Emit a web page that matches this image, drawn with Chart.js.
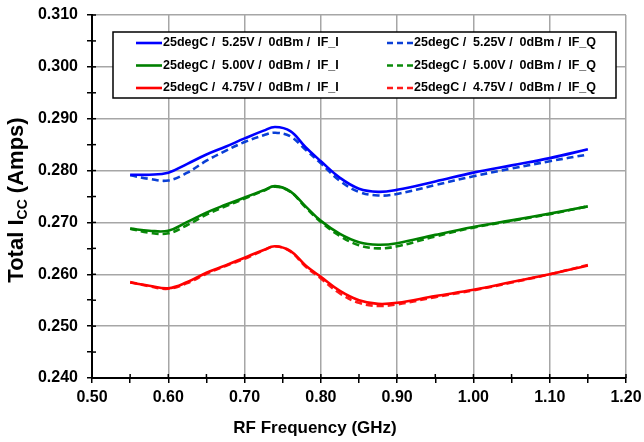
<!DOCTYPE html>
<html>
<head>
<meta charset="utf-8">
<script src="https://cdn.jsdelivr.net/npm/chart.js@4"></script>
<style>
  html, body { margin: 0; padding: 0; background: #ffffff; }
  #wrap { width: 644px; height: 442px; position: relative; }
</style>
</head>
<body>
<div id="wrap"><canvas id="c" width="644" height="442"></canvas></div>
<script>
// ---- data ----
const freqGHz = [0.55, 0.575, 0.60, 0.625, 0.65, 0.675, 0.70, 0.725, 0.74, 0.76, 0.78, 0.80, 0.825, 0.85, 0.875, 0.90, 0.95, 1.00, 1.05, 1.10, 1.15];
const v525_I = [0.2792, 0.2792, 0.2796, 0.2813, 0.2831, 0.2846, 0.2862, 0.2877, 0.2884, 0.2876, 0.2845, 0.2818, 0.2786, 0.2765, 0.2759, 0.2763, 0.2779, 0.2796, 0.2810, 0.2824, 0.2841];
const v525_Q = [0.2791, 0.2784, 0.2781, 0.2796, 0.2819, 0.2838, 0.2855, 0.2868, 0.2873, 0.2866, 0.2840, 0.2814, 0.2780, 0.2759, 0.2752, 0.2755, 0.2772, 0.2789, 0.2804, 0.2818, 0.2831];
const v500_I = [0.2688, 0.2684, 0.2684, 0.2701, 0.2719, 0.2734, 0.2748, 0.2762, 0.2770, 0.2760, 0.2731, 0.2703, 0.2678, 0.2662, 0.2657, 0.2660, 0.2676, 0.2691, 0.2704, 0.2717, 0.2731];
const v500_Q = [0.2688, 0.2680, 0.2679, 0.2695, 0.2715, 0.2731, 0.2746, 0.2761, 0.2769, 0.2759, 0.2729, 0.2701, 0.2674, 0.2656, 0.2650, 0.2654, 0.2673, 0.2690, 0.2703, 0.2716, 0.2731];
const v475_I = [0.2584, 0.2578, 0.2573, 0.2585, 0.2603, 0.2617, 0.2632, 0.2647, 0.2654, 0.2645, 0.2617, 0.2595, 0.2568, 0.2550, 0.2543, 0.2545, 0.2558, 0.2570, 0.2585, 0.2600, 0.2617];
const v475_Q = [0.2585, 0.2577, 0.2572, 0.2583, 0.2601, 0.2616, 0.2630, 0.2646, 0.2654, 0.2644, 0.2615, 0.2592, 0.2563, 0.2545, 0.2539, 0.2542, 0.2556, 0.2569, 0.2584, 0.2600, 0.2618];
const seriesLabels = [
  "25degC /  5.25V /  0dBm /  IF_I", "25degC /  5.25V /  0dBm /  IF_Q",
  "25degC /  5.00V /  0dBm /  IF_I", "25degC /  5.00V /  0dBm /  IF_Q",
  "25degC /  4.75V /  0dBm /  IF_I", "25degC /  4.75V /  0dBm /  IF_Q"
];
const xTitle = "RF Frequency (GHz)";
const yTitleMain = "Total I";
const yTitleSub = "CC";
const yTitleEnd = " (Amps)";

// ---- build ----
const seriesValues = [v525_I, v525_Q, v500_I, v500_Q, v475_I, v475_Q];
const colors = ["#0000ff", "#0a3fd6", "#008000", "#0a8a0a", "#ff0000", "#ff1a1a"];
const FONT = "'Liberation Sans', Arial, Helvetica, sans-serif";

const datasets = seriesValues.map((vals, i) => ({
  label: seriesLabels[i],
  data: freqGHz.map((f, k) => ({ x: f, y: vals[k] })),
  borderColor: colors[i],
  backgroundColor: colors[i],
  borderWidth: 2.6,
  borderDash: (i % 2 === 1) ? [7, 4] : [],
  pointRadius: 0,
  tension: 0.4,
  fill: false
}));

const isMajor = (v, step) => Math.abs(Math.round(v / step) - v / step) < 1e-6;

const decorPlugin = {
  id: 'decor',
  afterDraw(chart) {
    const ctx = chart.ctx;
    const ca = chart.chartArea;
    const xs = chart.scales.x, ys = chart.scales.y;
    ctx.save();
    // inner parts of tick marks
    ctx.strokeStyle = '#000';
    ctx.lineWidth = 1.5;
    ys.ticks.forEach(t => {
      const y = ys.getPixelForValue(t.value);
      ctx.beginPath(); ctx.moveTo(ca.left, y); ctx.lineTo(ca.left + 4, y); ctx.stroke();
    });
    xs.ticks.forEach(t => {
      const x = xs.getPixelForValue(t.value);
      ctx.beginPath(); ctx.moveTo(x, ca.bottom); ctx.lineTo(x, ca.bottom - 4); ctx.stroke();
    });

    // legend box
    const bx = ca.left + 21, by = ca.top + 17, bw = 503, bh = 66;
    ctx.fillStyle = '#fff';
    ctx.fillRect(bx, by, bw, bh);
    ctx.strokeStyle = '#000';
    ctx.lineWidth = 1.5;
    ctx.strokeRect(bx, by, bw, bh);
    ctx.font = "bold 12.5px " + FONT;
    ctx.textBaseline = 'middle';
    ctx.textAlign = 'left';
    chart.data.datasets.forEach((ds, i) => {
      const row = Math.floor(i / 2), col = i % 2;
      const ly = by + 11 + row * 22.5;
      const lx = bx + 23 + col * 251;
      ctx.strokeStyle = ds.borderColor;
      ctx.lineWidth = 2.6;
      ctx.setLineDash(ds.borderDash.length ? [6, 4] : []);
      ctx.beginPath(); ctx.moveTo(lx, ly); ctx.lineTo(lx + 26, ly); ctx.stroke();
      ctx.setLineDash([]);
      ctx.fillStyle = '#000';
      ctx.fillText(ds.label, lx + 27, ly);
    });

    // x title
    ctx.font = "bold 17px " + FONT;
    ctx.textAlign = 'center';
    ctx.textBaseline = 'middle';
    ctx.fillStyle = '#000';
    ctx.fillText(xTitle, 315, 428);

    // y title with subscript
    const mainFont = "bold 22px " + FONT, subFont = "bold 14px " + FONT;
    ctx.font = mainFont; const w1 = ctx.measureText(yTitleMain).width;
    const w3 = ctx.measureText(yTitleEnd).width;
    ctx.font = subFont; const w2 = ctx.measureText(yTitleSub).width;
    const total = w1 + w2 + w3;
    ctx.translate(17, 200);
    ctx.rotate(-Math.PI / 2);
    ctx.textAlign = 'left';
    ctx.textBaseline = 'middle';
    let px = -total / 2;
    ctx.font = mainFont; ctx.fillText(yTitleMain, px, 0); px += w1;
    ctx.font = subFont; ctx.fillText(yTitleSub, px, 6); px += w2;
    ctx.font = mainFont; ctx.fillText(yTitleEnd, px, 0);
    ctx.restore();
  }
};

new Chart(document.getElementById('c'), {
  type: 'line',
  data: { datasets },
  plugins: [decorPlugin],
  options: {
    responsive: false,
    animation: false,
    layout: { padding: { left: 0, right: 18, top: 15, bottom: 0 } },
    plugins: { legend: { display: false }, tooltip: { enabled: false } },
    scales: {
      x: {
        type: 'linear',
        min: 0.5, max: 1.2,
        afterFit(scale) { scale.height = 442 - 378; scale.paddingLeft = 0; scale.paddingRight = 0; },
        border: { color: '#000', width: 2 },
        grid: {
          color: ctx => isMajor(ctx.tick.value, 0.1) ? '#a6a6a6' : 'rgba(0,0,0,0)',
          lineWidth: 1.5,
          tickColor: '#000',
          tickLength: 5,
          tickWidth: 1.5
        },
        ticks: {
          stepSize: 0.05,
          autoSkip: false,
          maxRotation: 0,
          padding: 5,
          color: '#000',
          font: { family: FONT, size: 16, weight: 'bold' },
          callback: v => isMajor(v, 0.1) ? Number(v).toFixed(2) : ''
        }
      },
      y: {
        type: 'linear',
        min: 0.24, max: 0.31,
        afterFit(scale) { scale.width = 92; scale.paddingTop = 0; scale.paddingBottom = 0; },
        border: { color: '#000', width: 2 },
        grid: {
          color: ctx => isMajor(ctx.tick.value, 0.01) ? '#a6a6a6' : 'rgba(0,0,0,0)',
          lineWidth: 1.5,
          tickColor: '#000',
          tickLength: 5,
          tickWidth: 1.5
        },
        ticks: {
          stepSize: 0.005,
          autoSkip: false,
          padding: 9,
          color: '#000',
          font: { family: FONT, size: 16, weight: 'bold' },
          callback: v => isMajor(v, 0.01) ? Number(v).toFixed(3) : ''
        }
      }
    }
  }
});
</script>
</body>
</html>
